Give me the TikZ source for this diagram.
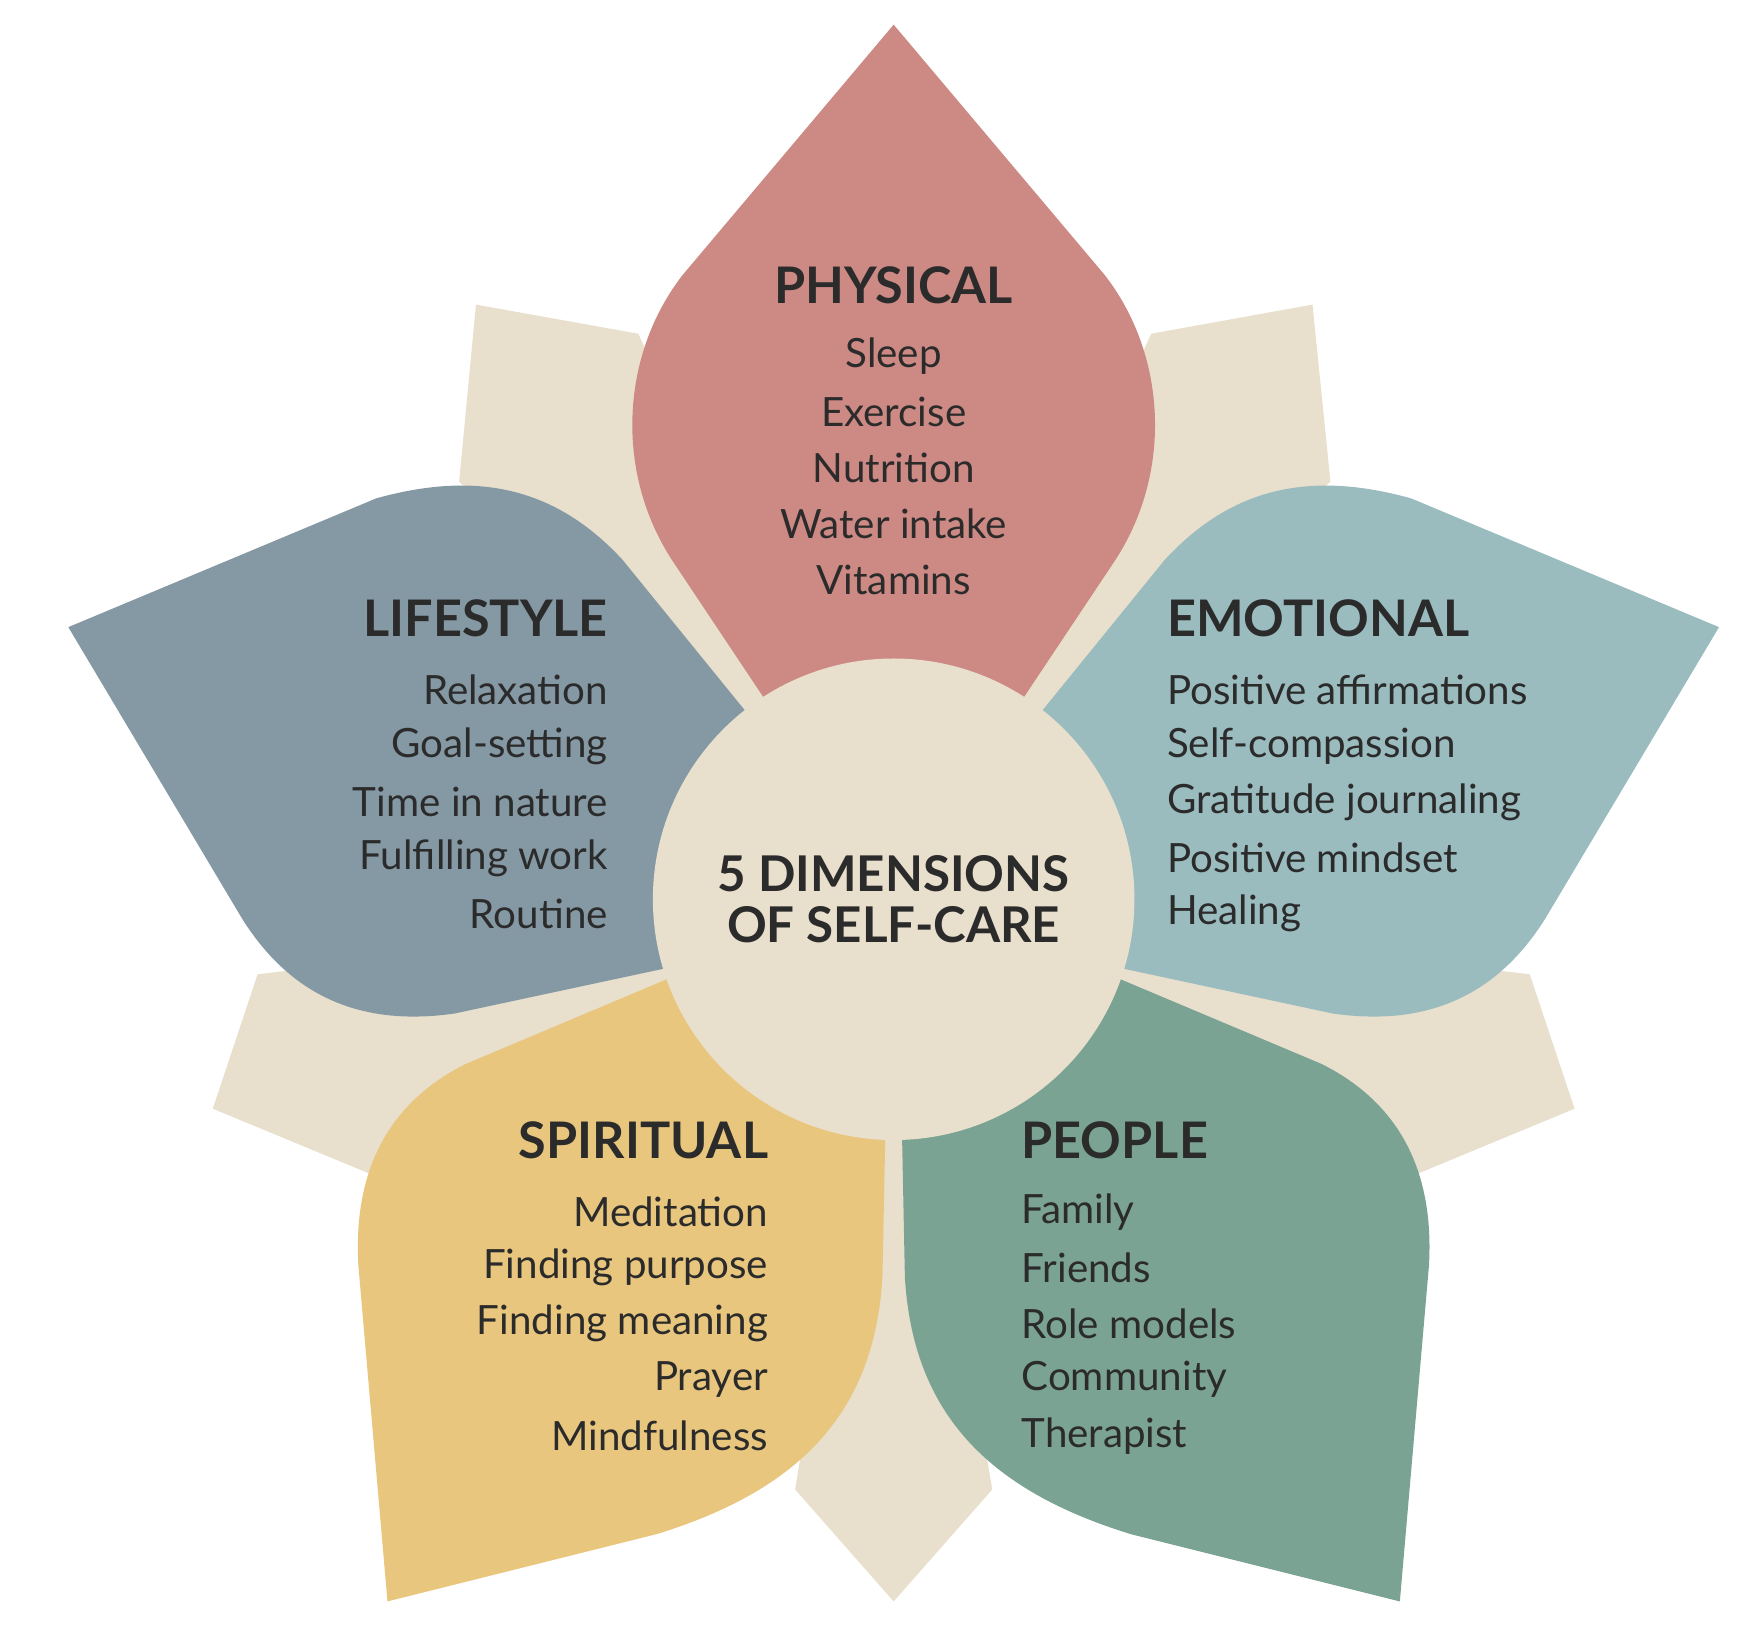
\documentclass[tikz,border=0pt]{standalone}
\usepackage{fontspec}
\setmainfont{Lato}
\begin{document}
\begin{tikzpicture}[x=1pt,y=-1pt,
  item/.style={font=\fontsize{36}{40}\selectfont, text=txt, inner sep=0pt},
  head/.style={font=\fontsize{45}{48}\selectfont\bfseries, text=txt, inner sep=0pt}]
\definecolor{bg}{HTML}{E8DFCC}
\definecolor{phy}{HTML}{CD8A84}
\definecolor{emo}{HTML}{9ABCBF}
\definecolor{lif}{HTML}{8599A4}
\definecolor{spi}{HTML}{E8C67E}
\definecolor{peo}{HTML}{7BA394}
\definecolor{txt}{HTML}{2B2B2B}
\useasboundingbox (0,0) rectangle (1560,1470);
% beige star points
\fill[bg] (798,803) -- (410,430) -- (425,272) -- (570,298) -- cycle;
\fill[bg] (798,803) -- (1188,430) -- (1172,272) -- (1028,298) -- cycle;
\fill[bg] (798,803) -- (230,870) -- (190,990) -- (330,1048) -- cycle;
\fill[bg] (798,803) -- (1366,870) -- (1406,990) -- (1266,1048) -- cycle;
\fill[bg] (798,803) -- (710,1330) -- (798,1430) -- (886,1330) -- cycle;
% petals
\fill[phy] (798,22) -- (610,245) .. controls (555,315) and (548,420) .. (600,500) -- (700,650) -- (896,650) -- (996,500) .. controls (1048,420) and (1041,315) .. (986,245) -- cycle;
\fill[emo] (910,660) -- (1040,500) .. controls (1100,435) and (1170,420) .. (1260,445) -- (1535,560) -- (1380,820) .. controls (1330,900) and (1260,915) .. (1190,905) -- (980,860) -- cycle;
\fill[lif] (686,660) -- (556,500) .. controls (496,435) and (426,420) .. (336,445) -- (61,560) -- (216,820) .. controls (266,900) and (336,915) .. (406,905) -- (616,860) -- cycle;
\fill[peo] (805,990) -- (990,870) -- (1180,950) .. controls (1260,990) and (1280,1060) .. (1276,1130) -- (1250,1430) -- (1010,1370) .. controls (880,1330) and (815,1260) .. (808,1140) -- cycle;
\fill[spi] (791,990) -- (606,870) -- (416,950) .. controls (336,990) and (316,1060) .. (320,1130) -- (346,1430) -- (586,1370) .. controls (716,1330) and (781,1260) .. (788,1140) -- cycle;
% centre
\fill[bg] (798,803) circle (215);
\fill[bg] (798,803) circle (195);
\node[head, align=center, font=\fontsize{44}{45}\selectfont\bfseries] (c) at (798,803) {5 DIMENSIONS\\OF SELF-CARE};
% texts
\node[head] (hp) at (798,255) {PHYSICAL};
\foreach \t [count=\i] in {Sleep,Exercise,Nutrition,Water intake,Vitamins}
  \node[item] (p\i) at (798,268+50*\i) {\t};
\node[head, anchor=east] (hl) at (543,552) {LIFESTYLE};
\foreach \t [count=\i] in {Relaxation,Goal-setting,Time in nature,Fulfilling work,Routine}
  \node[item, anchor=east] (l\i) at (543,566+50*\i) {\t};
\node[head, anchor=west] (he) at (1042,552) {EMOTIONAL};
\foreach \t [count=\i] in {Positive affirmations,Self-compassion,Gratitude journaling,Positive mindset,Healing}
  \node[item, anchor=west] (e\i) at (1042,566+50*\i) {\t};
\node[head, anchor=east] (hs) at (686,1018) {SPIRITUAL};
\foreach \t [count=\i] in {Meditation,Finding purpose,Finding meaning,Prayer,Mindfulness}
  \node[item, anchor=east] (s\i) at (686,1032+50*\i) {\t};
\node[head, anchor=west] (hq) at (912,1018) {PEOPLE};
\foreach \t [count=\i] in {Family,Friends,Role models,Community,Therapist}
  \node[item, anchor=west] (q\i) at (912,1032+50*\i) {\t};
\end{tikzpicture}
\end{document}
